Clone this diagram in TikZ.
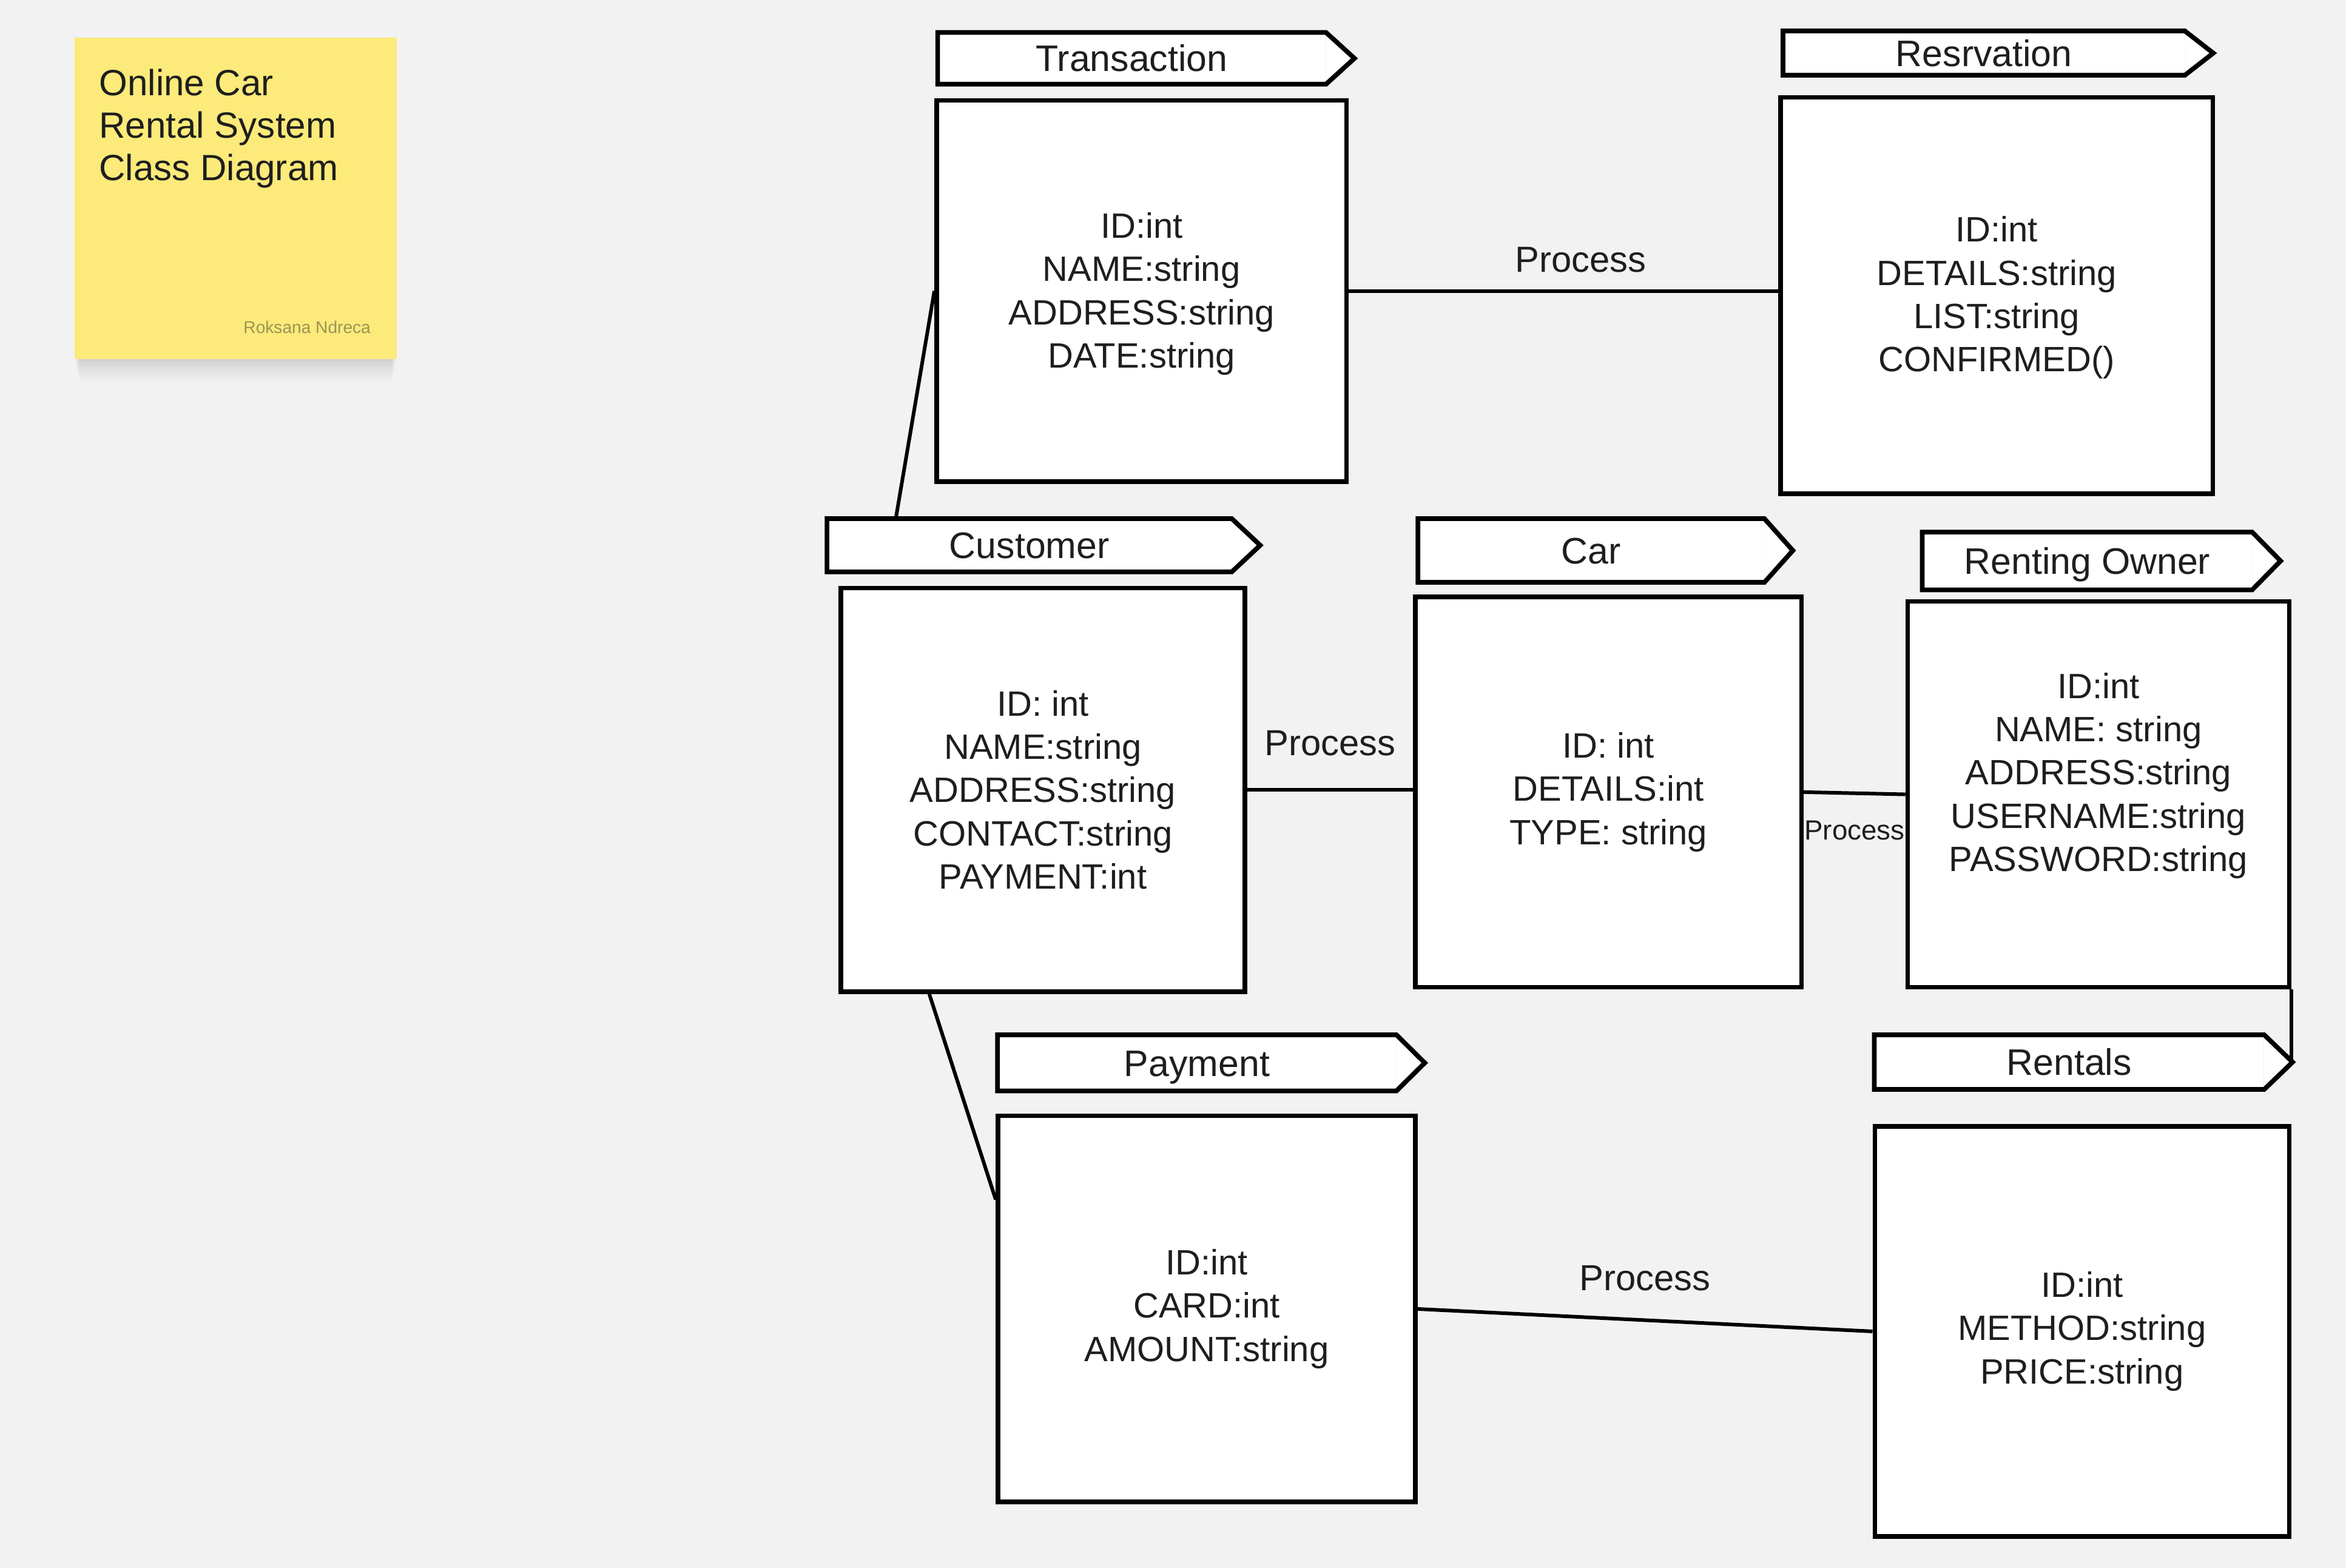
\documentclass[tikz,border=0pt]{standalone}
\usepackage{fontspec}
\setmainfont{Liberation Sans}
\usetikzlibrary{calc}
\newcommand{\upx}{0.02466cm}
\definecolor{bg}{HTML}{F2F2F2}
\definecolor{note}{HTML}{FCEA7A}
\definecolor{ink}{HTML}{1E1E1E}
\definecolor{sig}{HTML}{9C9458}

\begin{document}
\begin{tikzpicture}[x=\upx,y=-\upx,
  wh/.style 2 args={minimum width=#1*\upx,minimum height=#2*\upx},
  cls/.style={draw=black,line width=2.1pt,fill=white,align=center,text=ink,
    inner sep=0pt,font=\fontsize{16.5}{20.3}\selectfont},
  attr/.style={align=center,text=ink,inner sep=0pt,font=\fontsize{16.5}{20.3}\selectfont},
  hdr/.style={fill=white,inner sep=0pt,text=ink,text height=12.4pt,text depth=0pt,
    font=\fontsize{17.3}{20}\selectfont},
  hdrline/.style={draw=black,line width=2.2pt,line join=miter},
  link/.style={draw=black,line width=1.7pt},
  lbl/.style={text=ink,inner sep=2pt,font=\fontsize{17}{20}\selectfont},
  small/.style={font=\fontsize{13}{15}\selectfont}]

  % page and sticky note
  \fill[bg] (0,0) rectangle (1568,1048);
  \foreach \s in {1,...,8}
    \fill[black,opacity=0.016] (50+\s*0.4,25+\s*1.8) rectangle (265-\s*0.4,240+\s*1.8);
  \fill[note] (50,25) rectangle (265,240);
  \node[anchor=north west,align=left,inner sep=0pt,text=ink,
    font=\fontsize{17.1}{19.9}\selectfont] (title) at (66,46)
    {Online Car\\Rental System\\Class Diagram};
  \node[anchor=base east,inner sep=0pt,text=sig,font=\fontsize{8}{9}\selectfont]
    (who) at (248,223) {Roksana Ndreca};

  % classes
  \node[cls,wh={274}{255}] (t) at (763,194.5) {};
  \node[attr] (ta) at ($(t)+(0,2)$) {ID:int\\NAME:string\\ADDRESS:string\\DATE:string};
  \node[cls,wh={289}{265}] (r) at (1334.5,197.5) {};
  \node[attr] (ra) at ($(r)+(0,1.5)$) {ID:int\\DETAILS:string\\LIST:string\\CONFIRMED()};
  \node[cls,wh={270}{270}] (c) at (697,528) {ID: int\\NAME:string\\ADDRESS:string\\CONTACT:string\\PAYMENT:int};
  \node[cls,wh={258}{261}] (k) at (1075,529.5) {ID: int\\DETAILS:int\\TYPE: string};
  \node[cls,wh={255}{258}] (o) at (1402.5,531) {};
  \node[attr] (oa) at ($(o)+(0,-12.5)$) {ID:int\\NAME: string\\ADDRESS:string\\USERNAME:string\\PASSWORD:string};
  \node[cls,wh={279}{258}] (p) at (806.5,875) {ID:int\\CARD:int\\AMOUNT:string};
  \node[cls,wh={277}{274}] (l) at (1391.5,890) {ID:int\\METHOD:string\\PRICE:string};

  % class titles
  \node[hdr,wh={259}{34}] (th) at (756.5,39) {Transaction};
  \node[hdr,wh={268}{29}] (rh) at (1326,35.5) {Resrvation};
  \node[hdr,wh={270}{35}] (ch) at (688,364.5) {Customer};
  \node[hdr,wh={231}{42}] (kh) at (1063.5,368) {Car};
  \node[hdr,wh={220}{38}] (oh) at (1395,375) {Renting Owner};
  \node[hdr,wh={266}{37}] (ph) at (800,710.5) {Payment};
  \node[hdr,wh={260}{36}] (lh) at (1383,710) {Rentals};
  \foreach \n in {th,rh,ch,kh,oh,ph,lh} {
    \coordinate (\n-tip) at ($(\n.east)+(19,0)$);
    \fill[white] (\n.north east) -- (\n-tip) -- (\n.south east) -- cycle;
    \draw[hdrline] (\n.north west) -- (\n.north east) -- (\n-tip)
      -- (\n.south east) -- (\n.south west) -- cycle;
  }

  % associations
  \draw[link] (t.east) -- node[lbl,above=5.8pt,pos=0.54]{Process} (t.east -| r.west);
  \draw[link] (t.west) -- ($(ch.north west)!0.17!(ch.north east)$);
  \draw[link] (c.east) -- node[lbl,above=13pt]{Process} (c.east -| k.west);
  \draw[link] (k.east) -- node[lbl,small,below=10pt]{Process} (o.west);
  \draw[link] ($(c.south west)!0.222!(c.south east)$) -- ($(p.north west)!0.22!(p.south west)$);
  \draw[link] (p.east) -- node[lbl,above=11pt]{Process} (l.west);
  \draw[link] (o.south east) -- (o.south east |- lh-tip);
\end{tikzpicture}
\end{document}
